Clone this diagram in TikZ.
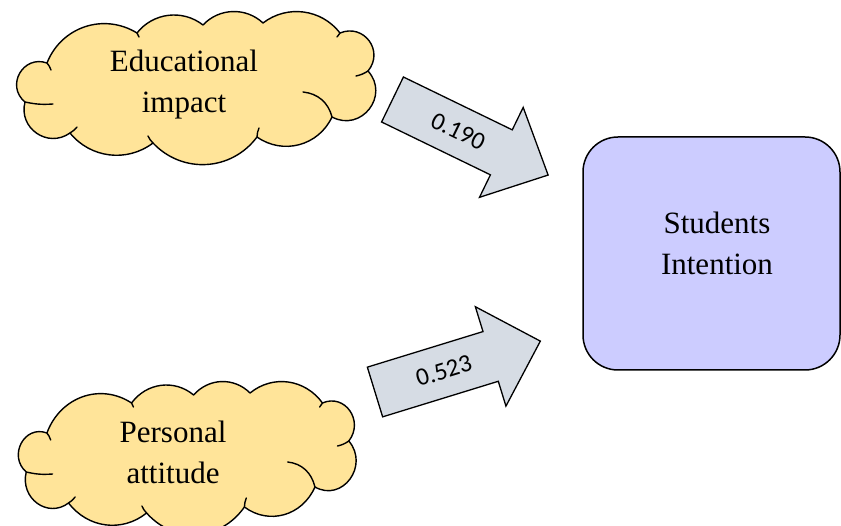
\documentclass[tikz,border=0pt]{standalone}
\usepackage{fontspec}
\setmainfont{Liberation Serif}
\newfontfamily\lblfont{Carlito}
\definecolor{cloudfill}{RGB}{255,228,153}
\definecolor{boxfill}{RGB}{204,204,255}
\definecolor{arrowfill}{RGB}{214,220,228}
\tikzset{
  cloudline/.style={draw=black, line width=1.4pt, line join=round, line cap=round},
  cloudbody/.style={cloudline, fill=cloudfill},
  bigtext/.style={font=\fontsize{31}{41}\selectfont, align=center, inner sep=0pt},
  blockarrow/.style={draw=black, line width=1.3pt, fill=arrowfill, line join=miter},
  arrowlabel/.style={font=\lblfont\fontsize{25}{28}\selectfont, inner sep=0pt, transform shape},
  targetbox/.style={draw=black, line width=1.5pt, fill=boxfill, rounded corners=35pt}
}
\newcommand{\drawofficecloud}{%
  \draw[cloudbody] (25,102)
    to[bend left=80, looseness=1.45] (47,63)
    to[bend left=50, looseness=1.05] (137,33)
    to[bend left=45] (203,25)
    to[bend left=45] (263,23)
    to[bend left=45] (340,33)
    to[bend left=76, looseness=1.4] (368,71)
    to[bend left=80, looseness=1.45] (332,117)
    to[bend left=50, looseness=1.05] (257,137)
    to[bend left=50, looseness=1.05] (153,143)
    to[bend left=44] (70,133)
    to[bend left=70, looseness=1.27] (25,102)
    -- cycle;
  \draw[cloudline] (25,102) to[bend right=8] (53,104);
  \draw[cloudline] (368,71) to[bend left=10] (356,76);
  \draw[cloudline] (303,92) to[bend left=35] (332,117);
  \draw[cloudline] (153,143) to[bend left=10] (148,136);
  \draw[cloudline] (70,133) to[bend right=10] (77,127);
  \draw[cloudline] (257,137) to[bend left=10] (259,128);
  \draw[cloudline] (47,63) to[bend left=10] (51,70);
  \draw[cloudline] (137,33) -- (139,37);
  \draw[cloudline] (340,33) -- (337,37);
}
\begin{document}
\begin{tikzpicture}[x=1pt,y=-1pt]
\useasboundingbox (0,0) rectangle (841,526);
% cloud 1
\begin{scope}
  \coordinate (c1) at (197,88);
  \drawofficecloud
\end{scope}
\node[bigtext] (t1) at (184,85) {Educational\\impact};
% cloud 2
\begin{scope}[shift={(2.71,370)}, xscale=0.9405]
  \coordinate (c2) at (197,88);
  \drawofficecloud
\end{scope}
\node[bigtext] (t2) at (173,452) {Personal\\attitude};
% target box
\draw[targetbox] (583,137) rectangle (840,370);
\coordinate (box) at (711,253);
\node[bigtext] (si) at (717,243) {Students\\Intention};
% arrow 1
\begin{scope}[shift={(392.5,99.5)}, rotate=-25.9]
  \draw[blockarrow] (0,-25) -- (121,-25) -- (121,-50) -- (173,0) -- (121,50) -- (121,25) -- (0,25) -- cycle;
  \node[arrowlabel] (a1) at (73,0) {0.190};
\end{scope}
% arrow 2
\begin{scope}[shift={(375,392)}, rotate=17.1]
  \draw[blockarrow] (0,-26) -- (121,-26) -- (121,-52) -- (173,0) -- (121,52) -- (121,26) -- (0,26) -- cycle;
  \node[arrowlabel] (a2) at (72,0) {0.523};
\end{scope}
\end{tikzpicture}
\end{document}
